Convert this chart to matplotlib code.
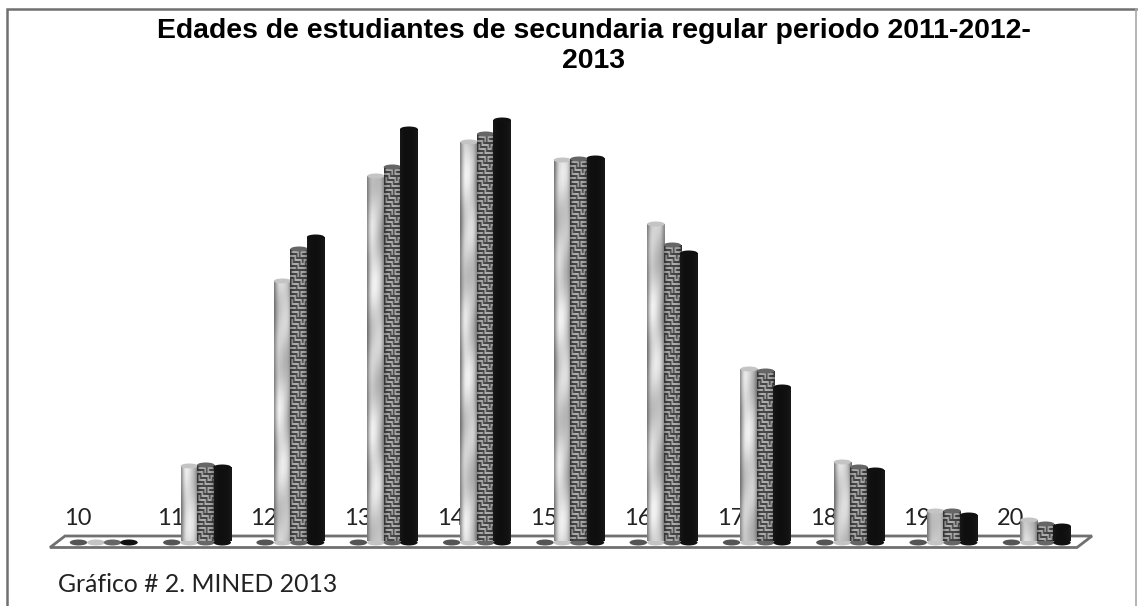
import matplotlib
matplotlib.use('Agg')
import matplotlib.pyplot as plt
from matplotlib.patches import Ellipse, Polygon
import numpy as np

ages = ['10', '11', '12', '13', '14', '15', '16', '17', '18', '19', '20']
serie_2011 = [0, 76, 261, 366, 400, 382, 318, 173, 80, 31, 22]
serie_2012 = [0, 77, 293, 375, 408, 383, 297, 171, 75, 31, 18]
serie_2013 = [0, 75, 305, 413, 422, 384, 289, 155, 72, 27, 16]
serie_vacia = [0, 0, 0, 0, 0, 0, 0, 0, 0, 0, 0]

title = 'Edades de estudiantes de secundaria regular periodo 2011-2012-\n2013'
note = 'Gráfico # 2. MINED 2013'

W, H = 1138, 606
BASE = 541
BOTTOM = -(H - BASE)
fig = plt.figure(figsize=(W / 100, H / 100), dpi=100)
ax = fig.add_axes([0, 0, 1, 1])
ax.axis('off')

# chart frame, open at the bottom
ax.plot([7, 7, 1136], [BOTTOM, BASE - 9, BASE - 9], color='#707070', lw=1.8, solid_joinstyle='miter')
ax.plot([1136, 1136], [BOTTOM, BASE - 9], color='#a8a8a8', lw=1.2)

# floor of the 3d plot
floor = Polygon([(50, -6.5), (1077, -6.5), (1092, 5), (65, 5)], closed=True,
                facecolor='white', edgecolor='#707070', lw=2, zorder=1)
ax.add_patch(floor)

BAR_W = 17.5
STEP = 93.3
X0 = 78.5

# textures: one row is one pixel of the bar, they only repeat along the height
edge = np.array([0.62, 0.8, 0.92, 1.0, 1.0, 1.0, 0.98, 0.95, 0.92, 0.85, 0.72, 0.6])
maze = np.array([
    [.25, .25, .25, .25, .25, .25, .25, .25, .25, .25, .25, .25],
    [.25, .62, .62, .62, .62, .62, .25, .62, .62, .62, .62, .25],
    [.25, .25, .25, .25, .25, .62, .25, .62, .25, .25, .25, .25],
    [.62, .62, .62, .62, .25, .62, .25, .62, .62, .62, .62, .62],
    [.25, .25, .25, .62, .25, .25, .25, .25, .25, .25, .25, .25],
    [.25, .62, .25, .62, .62, .62, .62, .62, .25, .62, .62, .25],
    [.25, .62, .25, .25, .25, .25, .25, .62, .25, .62, .25, .25],
    [.25, .62, .62, .62, .62, .62, .25, .62, .62, .62, .25, .62],
    [.25, .25, .25, .25, .25, .62, .25, .25, .25, .25, .25, .25],
    [.62, .62, .62, .62, .25, .62, .62, .62, .62, .62, .62, .25],
])
maze = np.repeat(maze, 2, axis=0)


def marble_tex(h, phase):
    n = max(int(h), 1)
    y = np.arange(n)[:, None]
    x = np.arange(len(edge))[None, :]
    blot = 0.05 * np.sin(y / 11.0 + x / 4.0 + phase) + 0.06 * np.sin(y / 29.0 - x / 3.0 + 2 * phase)
    return np.clip((0.84 + blot) * edge, 0, 1)


def maze_tex(h):
    n = max(int(h), 1)
    rows = np.tile(maze, (n // len(maze) + 1, 1))[:n]
    return rows * (0.4 + 0.7 * edge)


def black_tex(h):
    return np.full((max(int(h), 1), len(edge)), 0.06) + 0.08 * (1 - edge)


def cylinder(x, h, tex, top, z):
    # body, rounded with ellipses at both ends
    ax.add_patch(Ellipse((x, -1.5), BAR_W, 6, facecolor=top, edgecolor='none', zorder=z))
    if h <= 0:
        return
    h = h - 1  # the cap sticks out above the body
    ax.imshow(tex(h), extent=(x - BAR_W / 2, x + BAR_W / 2, 0, h), aspect='auto',
              cmap='gray', vmin=0, vmax=1, zorder=z, interpolation='bilinear')
    ax.add_patch(Ellipse((x, h), BAR_W, 5, facecolor=top, edgecolor='none', zorder=z + 0.2))


for i, age in enumerate(ages):
    cx = X0 + i * STEP
    ax.text(cx - 1, 12, age, family='Lato', fontsize=17, color='#222222',
            ha='center', va='bottom', zorder=2)
    cylinder(cx, serie_vacia[i], black_tex, '#555555', 3)
    cylinder(cx + BAR_W, serie_2011[i], lambda h: marble_tex(h, i), '#c4c4c4', 4)
    cylinder(cx + 2 * BAR_W - 1, serie_2012[i], maze_tex, '#666666', 5)
    cylinder(cx + 3 * BAR_W - 2, serie_2013[i], black_tex, '#101010', 6)

# imshow resets the limits, so they go last
ax.set_xlim(0, W)
ax.set_ylim(BOTTOM, BASE)

ax.text(594, BASE - 18, title, family='Liberation Sans', fontweight='bold', fontsize=20.4,
        ha='center', va='top', linespacing=1.2, color='black')
ax.text(58, -44, note, family='Lato', fontsize=17.8, color='#222222', ha='left', va='center')

fig.savefig('out.png', dpi=100)
